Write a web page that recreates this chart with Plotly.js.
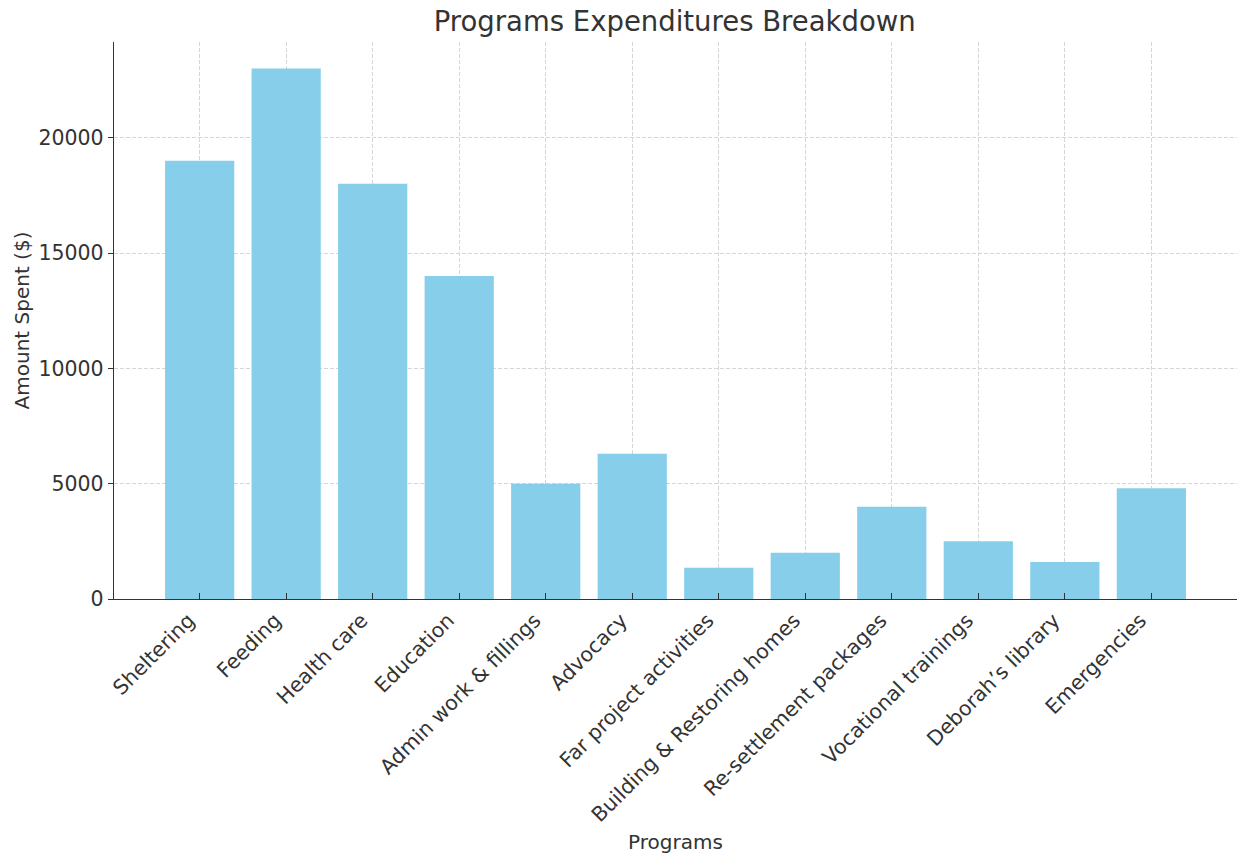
<!DOCTYPE html>
<html>
<head>
<meta charset="utf-8">
<script src="https://cdn.plot.ly/plotly-3.0.1.min.js"></script>
<style>html,body{margin:0;padding:0;background:#fff;}#chart{width:1238px;height:856px;}</style>
</head>
<body>
<div id="chart"></div>
<script>
const categories = ["Sheltering", "Feeding", "Health care", "Education", "Admin work & fillings", "Advocacy", "Far project activities", "Building & Restoring homes", "Re-settlement packages", "Vocational trainings", "Deborah\u2019s library", "Emergencies"];
const amounts = [19000, 23000, 18000, 14000, 5000, 6300, 1350, 2000, 4000, 2500, 1600, 4800];
const yTicks = [0, 5000, 10000, 15000, 20000];

const font = "DejaVu Sans, sans-serif";
const trace = {
  type: "bar",
  x: categories,
  y: amounts,
  width: 0.8,
  marker: {color: "#87CEEB", line: {width: 0}},
  hoverinfo: "x+y"
};
const layout = {
  width: 1238, height: 856,
  margin: {l: 114, r: 1, t: 42, b: 257},
  paper_bgcolor: "#fff", plot_bgcolor: "#fff",
  showlegend: false,
  title: {text: "Programs Expenditures Breakdown", font: {family: font, size: 27.5, color: "#333"}, x: 0.545, xanchor: "center", y: 0.975, yanchor: "middle"},
  xaxis: {
    type: "category",
    range: [-0.99, 11.99],
    tickangle: -45,
    tickfont: {family: font, size: 20.5, color: "#333"},
    ticks: "inside", ticklen: 6, tickcolor: "#333",
    ticklabelshift: -11,
    showline: true, linecolor: "#333", linewidth: 1.3,
    showgrid: true, gridcolor: "#d6d6d6", griddash: "4px,2px", gridwidth: 1,
    title: {text: "Programs", font: {family: font, size: 20, color: "#333"}, standoff: 9},
    automargin: false
  },
  yaxis: {
    range: [0, 24150],
    tickvals: yTicks,
    tickformat: "d",
    tickfont: {family: font, size: 20.5, color: "#333"},
    ticks: "outside", ticklen: 5, tickcolor: "#333",
    showline: true, linecolor: "#333", linewidth: 1.3,
    showgrid: true, gridcolor: "#d6d6d6", griddash: "4px,2px", gridwidth: 1,
    zeroline: false,
    title: {text: "Amount Spent ($)", font: {family: font, size: 20, color: "#333"}, standoff: 3},
    automargin: false
  }
};
Plotly.newPlot("chart", [trace], layout, {displayModeBar: false, staticPlot: true});
</script>
</body>
</html>
